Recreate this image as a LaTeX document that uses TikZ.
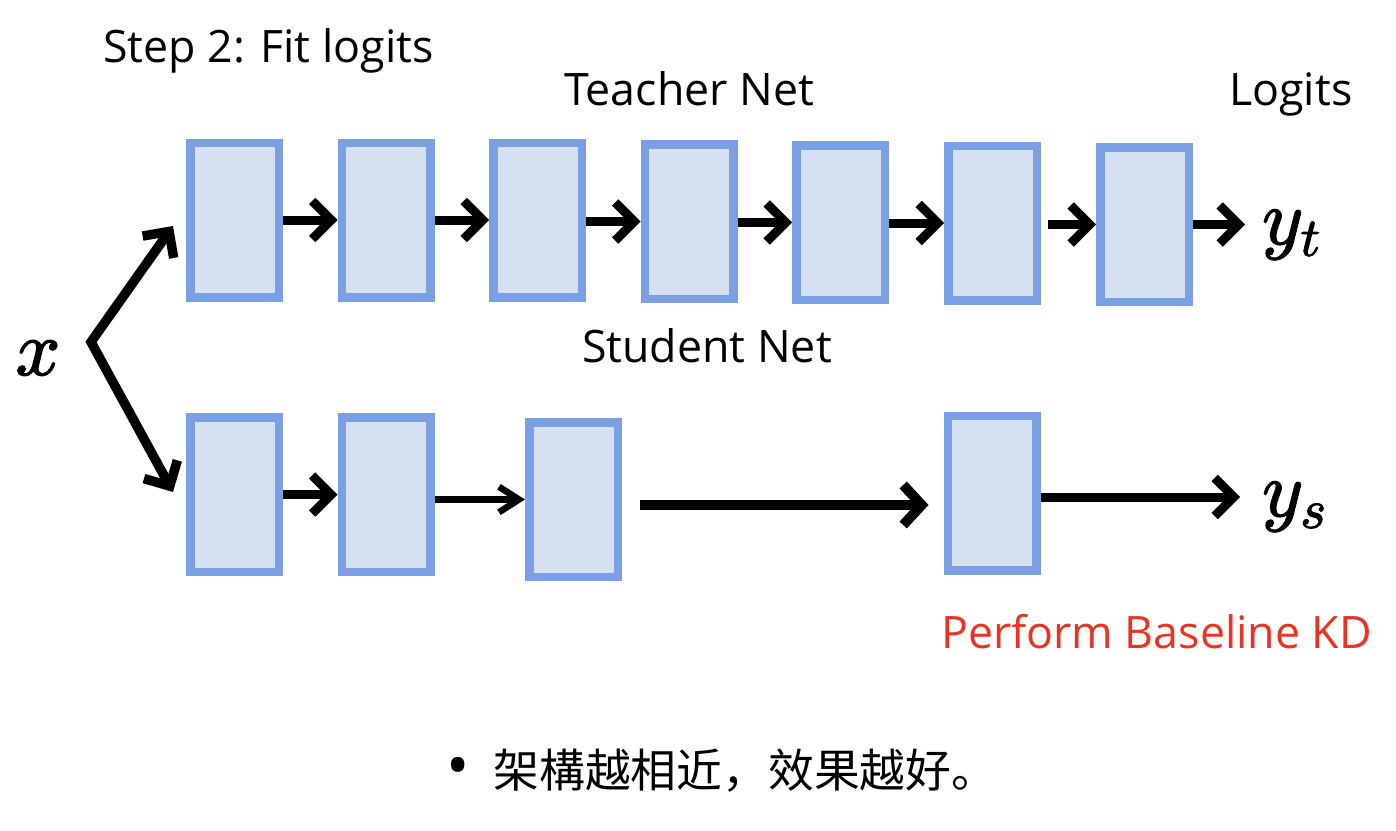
\RequirePackage{fix-cm}
\documentclass[tikz,border=0pt]{standalone}
\usepackage{fontspec}
\setmainfont{Open Sans}
\newfontfamily\cjk{Noto Sans CJK SC}
\newfontfamily\mathfnt{latinmodern-math.otf}[FakeBold=2]
\usetikzlibrary{arrows.meta}
\definecolor{boxline}{RGB}{122,160,227}
\definecolor{boxfill}{RGB}{213,225,240}
\definecolor{kdred}{RGB}{234,51,35}
\newcommand{\mletter}[1]{{\mathfnt\fontsize{78bp}{90bp}\selectfont #1}}
\newcommand{\msub}[2]{{\mathfnt\fontsize{78bp}{90bp}\selectfont #1\raisebox{-11.7bp}{\fontsize{54.6bp}{60bp}\selectfont #2}}}
\tikzset{
  layer/.style={rectangle, draw=boxline, fill=boxfill, line width=8.5bp,
    minimum width=88.5bp, minimum height=154.5bp, inner sep=0pt},
  arr/.style={line width=9bp, -{Straight Barb[length=19bp,width=38bp]}},
  biarr/.style={line width=9.5bp, line join=miter,
    {Straight Barb[length=19bp,width=38bp]}-{Straight Barb[length=19bp,width=38bp]}},
  thinarr/.style={line width=6.5bp, -{Straight Barb[length=20bp,width=25.5bp]}},
  longarr/.style={line width=10bp, -{Straight Barb[length=18.5bp,width=40bp]}},
  lbl/.style={font=\fontsize{44.7bp}{52bp}\selectfont, inner sep=0pt, anchor=base west},
  mathlbl/.style={inner sep=0pt},
}
\begin{document}
\begin{tikzpicture}[x=1bp,y=-1bp]
\useasboundingbox (0,0) rectangle (1396,830);
% teacher
\node[layer] (T1) at (234.5,220) {};
\node[layer] (T2) at (386,220) {};
\node[layer] (T3) at (537.5,220) {};
\node[layer] (T4) at (689,221.5) {};
\node[layer] (T5) at (840.5,222.5) {};
\node[layer] (T6) at (992.5,223) {};
\node[layer] (T7) at (1144.5,224.5) {};
% student
\node[layer] (S1) at (234.5,494.5) {};
\node[layer] (S2) at (386,494.5) {};
\node[layer] (S3) at (573.5,499.5) {};
\node[layer] (S4) at (992,493) {};
% labels
\node[lbl] (step) at (103,62) {Step 2: Fit logits};
\node[lbl] (tn) at (564,105) {Teacher Net};
\node[lbl] (lg) at (1229,105) {Logits};
\node[lbl] (sn) at (582,362) {Student Net};
\node[lbl, text=kdred] (kd) at (941,648) {Perform Baseline KD};
\node[mathlbl] (x) at (38,358) {\mletter{𝑥}};
\node[mathlbl, anchor=base west] (yt) at (1262,244) {\msub{𝑦}{𝑡}};
\node[mathlbl, anchor=base west] (ys) at (1262,516) {\msub{𝑦}{𝑠}};
\node[inner sep=0pt, anchor=base west] (note) at (446,787)
  {{\fontsize{62bp}{62bp}\selectfont •}\hspace{24bp}{\fontsize{45.8bp}{50bp}\selectfont\cjk 架構越相近，效果越好。}};
% connectors
\coordinate (fork) at (91,342);
\draw[biarr] ([shift={(-13bp,-6bp)}]T1.west) -- (fork) -- ([shift={(-13bp,2.5bp)}]S1.west);
\draw[arr] (T1.east |- T2.west) -- (T2.west);
\draw[arr] (T2.east |- T3.west) -- (T3.west);
\draw[arr] (T3.east |- T4.west) -- (T4.west);
\draw[arr] (T4.east |- T5.west) -- (T5.west);
\draw[arr] (T5.east |- T6.west) -- (T6.west);
\draw[arr, shorten <=7bp] (T6.east |- T7.west) -- (T7.west);
\draw[arr, shorten >=17bp] (T7.east) -- (T7.east -| yt.west);
\draw[arr] (S1.east) -- (S2.west);
\draw[thinarr] (S2.east |- S3.west) -- (S3.west);
\draw[longarr, shorten <=18bp, shorten >=15bp, transform canvas={yshift=-5.5bp}] (S3.east) -- (S3.east -| S4.west);
\draw[arr, shorten >=22bp, transform canvas={yshift=-4bp}] (S4.east) -- (S4.east -| ys.west);
\end{tikzpicture}
\end{document}
